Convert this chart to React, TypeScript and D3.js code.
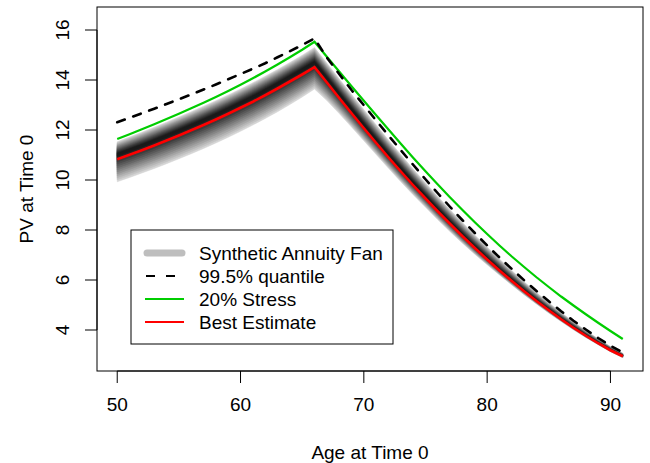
import React from "react";
import * as d3 from "d3";

// ages along the x axis
const ages = [
  50, 51, 52, 53, 54, 55, 56, 57, 58, 59, 60, 61, 62, 63, 64, 65, 66, 67, 68, 69, 70,
  71, 72, 73, 74, 75, 76, 77, 78, 79, 80, 81, 82, 83, 84, 85, 86, 87, 88, 89, 90, 91,
];

const bestEstimate = [
  10.83, 11.01, 11.19, 11.38, 11.58, 11.78, 11.99, 12.2, 12.42, 12.65, 12.89, 13.13, 13.39,
  13.66, 13.94, 14.22, 14.51, 13.9, 13.28, 12.67, 12.07, 11.48, 10.9, 10.34, 9.79, 9.26,
  8.74, 8.24, 7.75, 7.28, 6.82, 6.38, 5.96, 5.55, 5.16, 4.79, 4.43, 4.09, 3.77, 3.47, 3.19,
  2.95,
];

const stress20 = [
  11.64, 11.83, 12.03, 12.23, 12.44, 12.65, 12.87, 13.09, 13.32, 13.56, 13.81, 14.07, 14.34,
  14.62, 14.91, 15.21, 15.53, 14.93, 14.34, 13.75, 13.17, 12.59, 12.02, 11.45, 10.89, 10.35,
  9.82, 9.3, 8.8, 8.31, 7.84, 7.38, 6.94, 6.52, 6.11, 5.72, 5.34, 4.98, 4.63, 4.29, 3.96,
  3.64,
];

const quantile995 = [
  12.31, 12.49, 12.67, 12.85, 13.04, 13.23, 13.42, 13.62, 13.82, 14.03, 14.24, 14.45, 14.67,
  14.91, 15.15, 15.4, 15.66, 14.9, 14.24, 13.6, 12.99, 12.38, 11.78, 11.19, 10.61, 10.03,
  9.47, 8.92, 8.39, 7.88, 7.38, 6.9, 6.44, 5.99, 5.56, 5.15, 4.75, 4.37, 4.02, 3.68, 3.37,
  3.1,
];

// fan: outer low edge, densest centre, outer high edge
const fanLow = [
  9.93, 10.1, 10.28, 10.46, 10.65, 10.85, 11.05, 11.26, 11.48, 11.71, 11.95, 12.2, 12.46,
  12.73, 13.02, 13.32, 13.64, 13.18, 12.66, 12.12, 11.57, 11.02, 10.47, 9.93, 9.41, 8.91,
  8.41, 7.93, 7.47, 7.03, 6.61, 6.2, 5.8, 5.41, 5.04, 4.68, 4.34, 4.01, 3.7, 3.41, 3.13,
  2.89,
];

const fanMid = [
  11.03, 11.21, 11.39, 11.58, 11.78, 11.98, 12.19, 12.4, 12.62, 12.85, 13.09, 13.33, 13.59,
  13.86, 14.14, 14.42, 14.71, 14.08, 13.45, 12.83, 12.22, 11.62, 11.03, 10.46, 9.9, 9.36,
  8.83, 8.32, 7.82, 7.34, 6.88, 6.43, 6.0, 5.59, 5.19, 4.82, 4.46, 4.12, 3.8, 3.5, 3.22,
  2.98,
];

const fanHigh = [
  11.53, 11.72, 11.91, 12.11, 12.31, 12.52, 12.73, 12.95, 13.17, 13.4, 13.64, 13.89, 14.15,
  14.42, 14.7, 14.99, 15.3, 14.68, 14.05, 13.43, 12.82, 12.21, 11.6, 11.02, 10.44, 9.89,
  9.34, 8.81, 8.3, 7.8, 7.32, 6.84, 6.38, 5.93, 5.5, 5.09, 4.7, 4.33, 3.98, 3.65, 3.34,
  3.07,
];

const xTicks = [50, 60, 70, 80, 90];
const yTicks = [4, 6, 8, 10, 12, 14, 16];
const legendLabels = ["Synthetic Annuity Fan", "99.5% quantile", "20% Stress", "Best Estimate"];

const W = 650;
const H = 463;
const left = 97;
const right = 643;
const top = 7;
const bottom = 371;
const font = "'Liberation Sans', Arial, Helvetica, sans-serif";
const fs = 19;
const GREEN = "#00cd00";
const RED = "#ff0000";

export default function App() {
  const x = d3.scaleLinear().domain([48.36, 92.64]).range([left, right]);
  const y = d3.scaleLinear().domain([2.36, 16.92]).range([bottom, top]);

  const line = (vals: number[]) =>
    d3
      .line<number>()
      .x((_, i) => x(ages[i]))
      .y((d) => y(d))(vals) || "";

  // fan bands, widest/lightest first
  const nBands = 14;
  const bands = d3.range(nBands).map((k) => {
    const t = 1 - k / nBands;
    const area = d3
      .area<number>()
      .x((_, i) => x(ages[i]))
      .y0((_, i) => y(fanMid[i] + (fanLow[i] - fanMid[i]) * t))
      .y1((_, i) => y(fanMid[i] + (fanHigh[i] - fanMid[i]) * t));
    const g = Math.round(18 + 195 * Math.pow(t, 1.2));
    return { d: area(ages) || "", fill: `rgb(${g},${g},${g})` };
  });

  const legendY = [253, 276, 299, 322];

  return (
    <svg
      width={W}
      height={H}
      style={{ position: "absolute", left: 0, top: 0, background: "#fff" }}
      fontFamily={font}
    >
      {bands.map((b, i) => (
        <path key={i} d={b.d} fill={b.fill} stroke={b.fill} strokeWidth={0.5} />
      ))}
      <path d={line(stress20)} fill="none" stroke={GREEN} strokeWidth={2.2} />
      <path
        d={line(quantile995)}
        fill="none"
        stroke="#000"
        strokeWidth={2.6}
        strokeDasharray="8 9"
        strokeLinecap="round"
      />
      <path d={line(bestEstimate)} fill="none" stroke={RED} strokeWidth={2.6} />

      {/* box */}
      <rect x={left} y={top} width={right - left} height={bottom - top} fill="none" stroke="#000" />

      {/* x axis */}
      <line x1={x(50)} x2={x(90)} y1={bottom} y2={bottom} stroke="#000" />
      {xTicks.map((t) => (
        <g key={t}>
          <line x1={x(t)} x2={x(t)} y1={bottom} y2={bottom + 12} stroke="#000" />
          <text x={x(t)} y={411} textAnchor="middle" fontSize={fs}>
            {t}
          </text>
        </g>
      ))}
      <text x={(left + right) / 2} y={459} textAnchor="middle" fontSize={fs}>
        Age at Time 0
      </text>

      {/* y axis */}
      <line x1={left} x2={left} y1={y(4)} y2={y(16)} stroke="#000" />
      {yTicks.map((t) => (
        <g key={t}>
          <line x1={left - 12} x2={left} y1={y(t)} y2={y(t)} stroke="#000" />
          <text
            transform={`translate(69,${y(t)}) rotate(-90)`}
            textAnchor="middle"
            fontSize={fs}
          >
            {t}
          </text>
        </g>
      ))}
      <text
        transform={`translate(33,${(top + bottom) / 2}) rotate(-90)`}
        textAnchor="middle"
        fontSize={fs}
      >
        PV at Time 0
      </text>

      {/* legend */}
      <rect x={131} y={230} width={262} height={114} fill="#fff" stroke="#000" />
      <line x1={147} x2={182} y1={legendY[0]} y2={legendY[0]} stroke="#bebebe" strokeWidth={7} strokeLinecap="round" />
      <line x1={146} x2={184} y1={legendY[1]} y2={legendY[1]} stroke="#000" strokeWidth={2} strokeDasharray="9 11" />
      <line x1={145} x2={184} y1={legendY[2]} y2={legendY[2]} stroke={GREEN} strokeWidth={2} />
      <line x1={145} x2={184} y1={legendY[3]} y2={legendY[3]} stroke={RED} strokeWidth={2} />
      {legendLabels.map((l, i) => (
        <text key={l} x={199} y={legendY[i]} dy="0.35em" fontSize={fs}>
          {l}
        </text>
      ))}
    </svg>
  );
}
